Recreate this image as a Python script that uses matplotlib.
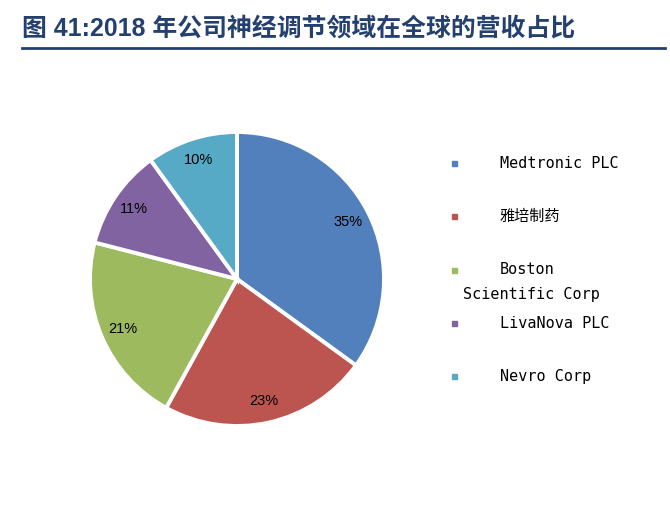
import matplotlib
matplotlib.use("Agg")
import matplotlib.pyplot as plt
from matplotlib.patches import Rectangle
from matplotlib.lines import Line2D

# ==================================================
# DATA
# ==================================================

labels = ["Medtronic PLC", "雅培制药", "Boston\nScientific Corp", "LivaNova PLC", "Nevro Corp"]
shares = [35, 23, 21, 11, 10]
colors = ["#5280BC", "#BC5550", "#9DBA5E", "#8163A1", "#57AAC5"]

TITLE = "图 41:2018 年公司神经调节领域在全球的营收占比"
TITLE_COLOR = "#24406F"

plt.rcParams["font.family"] = ["DejaVu Sans", "Noto Sans CJK SC"]

W, H = 670, 508
fig = plt.figure(figsize=(W / 100, H / 100), dpi=100)

# ==================================================
# TITLE + RULE
# ==================================================

fig.text(22 / W, 1 - 28 / H, TITLE, fontsize=17.9, fontweight="bold",
         color=TITLE_COLOR, va="center", ha="left",
         family=["Liberation Sans", "Noto Sans CJK SC"])
fig.add_artist(Line2D([22 / W, 665 / W], [1 - 48 / H, 1 - 48 / H],
                      color=TITLE_COLOR, lw=2))

# ==================================================
# PIE
# ==================================================

cx, cy, r = 237, 279, 147
ax = fig.add_axes([(cx - r) / W, (H - cy - r) / H, 2 * r / W, 2 * r / H])

wedges, texts, autotexts = ax.pie(
    shares,
    colors=colors,
    startangle=90,
    counterclock=False,
    autopct="%d%%",
    pctdistance=0.85,
    radius=1,
    wedgeprops=dict(edgecolor="white", linewidth=2.8),
    textprops=dict(fontsize=10.5, color="black", family="Liberation Sans"),
)
ax.set_xlim(-1.0, 1.0)
ax.set_ylim(-1.0, 1.0)
ax.set_aspect("equal")

# ==================================================
# LEGEND
# ==================================================

rows_y = [163, 216, 270, 323, 376]
for lab, col, y in zip(labels, colors, rows_y):
    fig.add_artist(Rectangle((452 / W, 1 - (y + 2.5) / H), 5 / W, 5 / H,
                             color=col, transform=fig.transFigure))
    parts = lab.split("\n")
    fig.text(500 / W, 1 - y / H, parts[0], fontsize=10.9, va="center",
             ha="left", family=["DejaVu Sans Mono", "Noto Sans CJK SC"])
    if len(parts) > 1:
        fig.text(463 / W, 1 - (y + 24) / H, parts[1], fontsize=10.9,
                 va="center", ha="left",
                 family=["DejaVu Sans Mono", "Noto Sans CJK SC"])

fig.savefig("out.png", dpi=100)
